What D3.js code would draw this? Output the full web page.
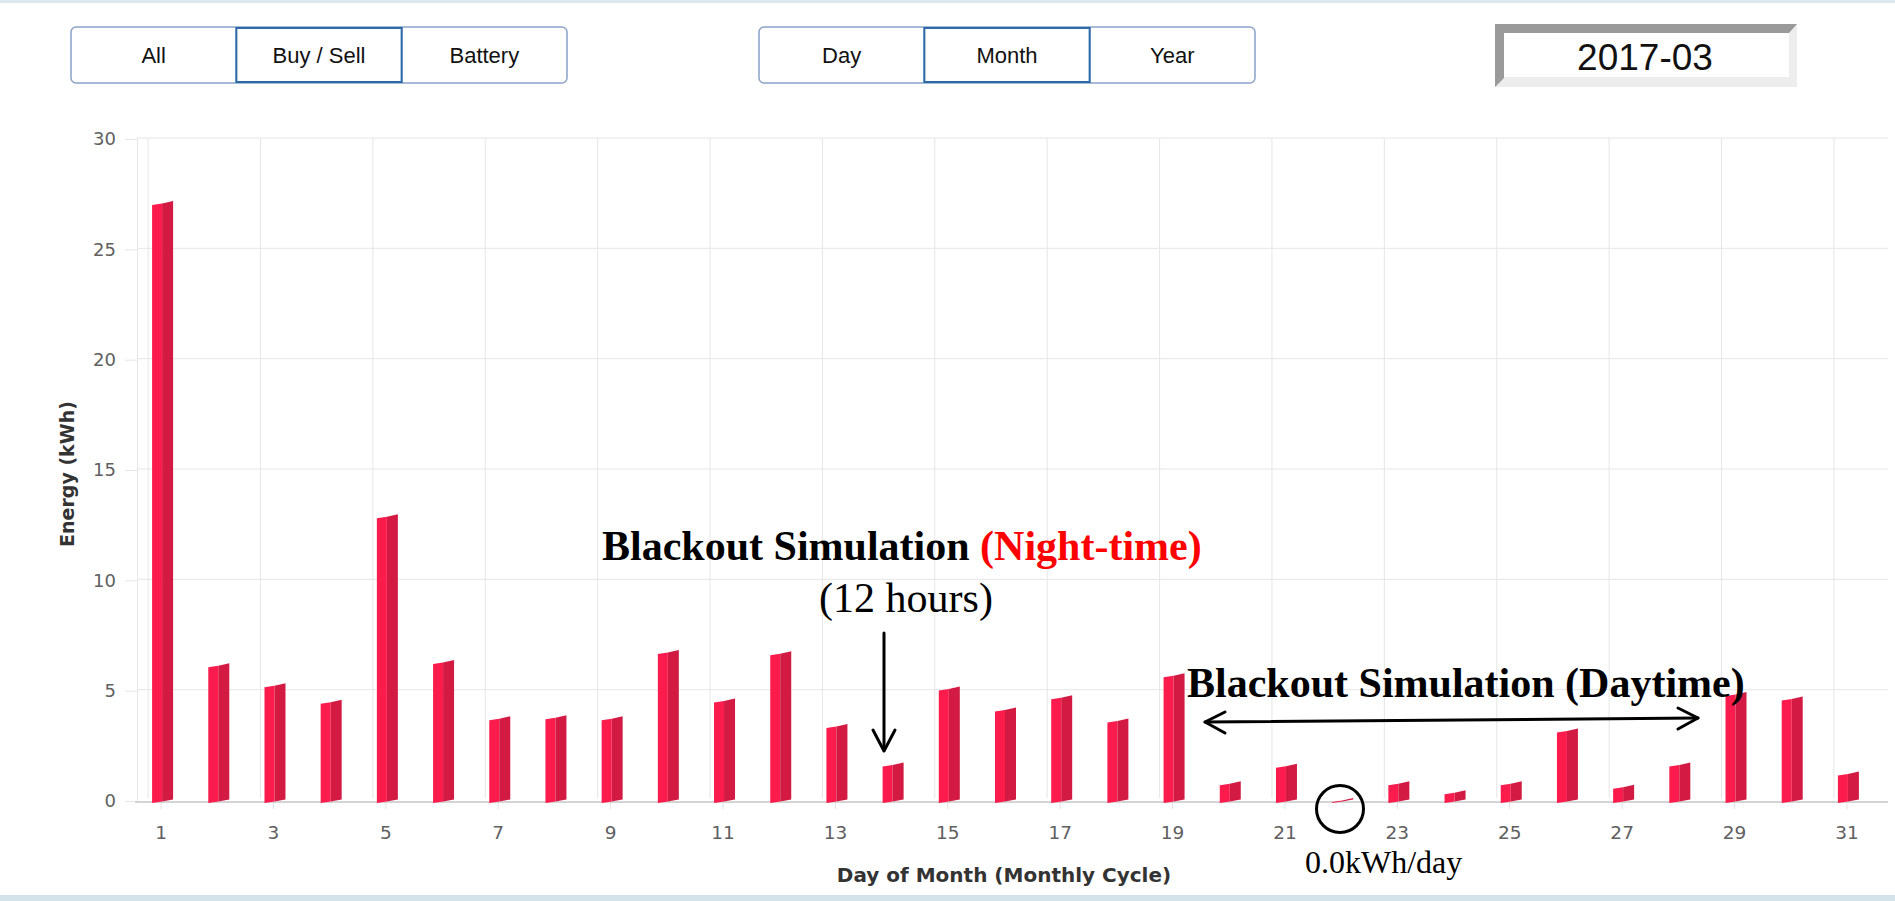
<!DOCTYPE html>
<html>
<head>
<meta charset="utf-8">
<script src="https://cdn.jsdelivr.net/npm/d3@7/dist/d3.min.js"></script>
<style>
  body { margin: 0; background: #ffffff; }
  svg { display: block; }
</style>
</head>
<body>
<div id="chart"></div>
<script>
// Data
var days = [1, 2, 3, 4, 5, 6, 7, 8, 9, 10, 11, 12, 13, 14, 15, 16,
            17, 18, 19, 20, 21, 22, 23, 24, 25, 26, 27, 28, 29, 30, 31];
var energy = [27.1, 6.15, 5.25, 4.5, 12.9, 6.3, 3.75, 3.8, 3.75, 6.75, 4.55,
              6.7, 3.4, 1.65, 5.1, 4.15, 4.7, 3.65, 5.7, 0.8, 1.6, 0.05,
              0.8, 0.4, 0.8, 3.2, 0.65, 1.65, 4.85, 4.65, 1.25];
var yTicks = [0, 5, 10, 15, 20, 25, 30];
var xTickDays = [1, 3, 5, 7, 9, 11, 13, 15, 17, 19, 21, 23, 25, 27, 29, 31];
var modeButtons = ["All", "Buy / Sell", "Battery"];
var periodButtons = ["Day", "Month", "Year"];
var selectedMonth = "2017-03";

var svgWidth = 1895;
var svgHeight = 901;

var svg = d3.select("#chart")
  .append("svg")
  .attr("width", svgWidth)
  .attr("height", svgHeight);

// page bands
svg.append("rect").attr("x", 0).attr("y", 0).attr("width", svgWidth).attr("height", 3)
  .attr("fill", "#dde9ee");
svg.append("rect").attr("x", 0).attr("y", 895).attr("width", svgWidth).attr("height", 6)
  .attr("fill", "#d3e3e9");

// Scales
var xScale = d3.scaleBand().domain(days).range([133, 1875]);
var yScale = d3.scaleLinear().domain([0, 30]).range([801, 139]);
var cx = d => xScale(d) + xScale.bandwidth() / 2;

// Grid (back plane, shifted left)
var grid = svg.append("g");
grid.selectAll(".hgrid")
  .data(yTicks.filter(t => t > 0))
  .enter()
  .append("line")
  .attr("x1", 137).attr("x2", 1888)
  .attr("y1", d => yScale(d) - 1).attr("y2", d => yScale(d) - 1)
  .attr("stroke", "#e6e6e6").attr("stroke-width", 1);
grid.selectAll(".vgrid")
  .data(xTickDays)
  .enter()
  .append("line")
  .attr("x1", d => cx(d) - 13).attr("x2", d => cx(d) - 13)
  .attr("y1", yScale(30) - 1).attr("y2", yScale(0) - 3)
  .attr("stroke", "#e6e6e6").attr("stroke-width", 1);

// Y axis
var yAxis = d3.axisLeft(yScale).tickValues(yTicks).tickSize(12).tickPadding(9);
var yG = svg.append("g")
  .attr("transform", "translate(137,0)")
  .call(yAxis);
yG.select(".domain").attr("stroke", "#e6e6e6");
yG.selectAll(".tick line").attr("stroke", "#e6e6e6");
yG.selectAll(".tick text")
  .attr("fill", "#606060")
  .style("font-family", "DejaVu Sans")
  .style("font-size", "18px");

// X axis
var xAxis = d3.axisBottom(xScale).tickValues(xTickDays).tickSize(7).tickPadding(17);
var xG = svg.append("g")
  .attr("transform", "translate(0,802)")
  .call(xAxis);
xG.select(".domain").remove();
xG.selectAll(".tick line").attr("stroke", "#e0e0e0");
xG.selectAll(".tick text")
  .attr("fill", "#606060")
  .style("font-family", "DejaVu Sans")
  .style("font-size", "18.5px");

svg.append("line")
  .attr("x1", 135).attr("x2", 1888)
  .attr("y1", yScale(0) + 1).attr("y2", yScale(0) + 1)
  .attr("stroke", "#d4d4d4").attr("stroke-width", 2);

// 3D-ish columns: front face + darker side face
var bars = svg.append("g");
var barData = days.map((d, i) => ({ day: d, value: energy[i] }));

bars.selectAll(".front")
  .data(barData)
  .enter()
  .append("path")
  .attr("fill", "#fb1b4c")
  .attr("d", function(d) {
    var c = cx(d.day), yt = yScale(d.value), yb = yScale(0);
    return "M" + (c - 9) + "," + (yb + 2) +
      "L" + (c - 9) + "," + (yt + 2) +
      "L" + (c + 1) + "," + (yt + 0.5) +
      "L" + (c + 1) + "," + (yb + 0.5) + "Z";
  });

bars.selectAll(".side")
  .data(barData)
  .enter()
  .append("path")
  .attr("fill", "#d21a43")
  .attr("d", function(d) {
    var c = cx(d.day), yt = yScale(d.value), yb = yScale(0);
    return "M" + (c + 1) + "," + (yb + 0.5) +
      "L" + (c + 1) + "," + (yt + 0.5) +
      "L" + (c + 12) + "," + (yt - 2) +
      "L" + (c + 12) + "," + (yb - 1.5) + "Z";
  });

// Axis titles
svg.append("text")
  .attr("transform", "translate(67,474) rotate(-90)")
  .attr("text-anchor", "middle")
  .attr("dominant-baseline", "central")
  .style("font-family", "DejaVu Sans")
  .style("font-weight", "bold")
  .style("font-size", "19px")
  .attr("fill", "#333")
  .text("Energy (kWh)");

svg.append("text")
  .attr("x", 1004).attr("y", 882)
  .attr("text-anchor", "middle")
  .style("font-family", "DejaVu Sans")
  .style("font-weight", "bold")
  .style("font-size", "20px")
  .attr("fill", "#333")
  .text("Day of Month (Monthly Cycle)");

// Button groups
function drawButtons(labels, x0, x1, activeIndex) {
  var g = svg.append("g");
  var w = (x1 - x0) / labels.length;
  g.append("rect")
    .attr("x", x0).attr("y", 27).attr("width", x1 - x0).attr("height", 56)
    .attr("rx", 5)
    .attr("fill", "#fff").attr("stroke", "#8aa3c6").attr("stroke-width", 1.5);
  labels.forEach(function(label, i) {
    if (i > 0) {
      g.append("line")
        .attr("x1", x0 + i * w).attr("x2", x0 + i * w)
        .attr("y1", 27).attr("y2", 83)
        .attr("stroke", "#8aa3c6").attr("stroke-width", 1.5);
    }
    g.append("text")
      .attr("x", x0 + i * w + w / 2).attr("y", 63)
      .attr("text-anchor", "middle")
      .style("font-family", "Liberation Sans, Arial")
      .style("font-size", "22px")
      .attr("fill", "#111")
      .text(label);
  });
  g.append("rect")
    .attr("x", x0 + activeIndex * w).attr("y", 28).attr("width", w).attr("height", 54)
    .attr("fill", "none").attr("stroke", "#2d6aaa").attr("stroke-width", 2);
}
drawButtons(modeButtons, 71, 567, 1);
drawButtons(periodButtons, 759, 1255, 1);

// Month box (inset style)
var box = svg.append("g");
box.append("rect").attr("x", 1495).attr("y", 24).attr("width", 302).attr("height", 63)
  .attr("fill", "#ededed");
box.append("path")
  .attr("d", "M1495,24L1797,24L1789,33L1504,33L1504,78L1495,87Z")
  .attr("fill", "#9a9a9a");
box.append("rect").attr("x", 1504).attr("y", 33).attr("width", 285).attr("height", 44)
  .attr("fill", "#fff");
box.append("text")
  .attr("x", 1645).attr("y", 70)
  .attr("text-anchor", "middle")
  .style("font-family", "Liberation Sans, Arial")
  .style("font-size", "37px")
  .attr("fill", "#111")
  .text(selectedMonth);

// Annotations
var serif = "Liberation Serif, Times New Roman, serif";
var night = svg.append("text")
  .attr("x", 602).attr("y", 560)
  .style("font-family", serif)
  .style("font-weight", "bold")
  .style("font-size", "42px")
  .attr("fill", "#000");
night.append("tspan").text("Blackout Simulation ");
night.append("tspan").attr("fill", "#ff0000").text("(Night-time)");

svg.append("text")
  .attr("x", 906).attr("y", 612)
  .attr("text-anchor", "middle")
  .style("font-family", serif)
  .style("font-size", "42px")
  .attr("fill", "#000")
  .text("(12 hours)");

svg.append("text")
  .attr("x", 1187).attr("y", 697)
  .style("font-family", serif)
  .style("font-weight", "bold")
  .style("font-size", "42px")
  .attr("fill", "#000")
  .text("Blackout Simulation (Daytime)");

svg.append("text")
  .attr("x", 1305).attr("y", 873)
  .style("font-family", serif)
  .style("font-size", "32px")
  .attr("fill", "#000")
  .text("0.0kWh/day");

// arrows
var arrows = svg.append("g")
  .attr("stroke", "#000").attr("stroke-width", 3).attr("fill", "none")
  .attr("stroke-linecap", "round").attr("stroke-linejoin", "round");
arrows.append("line").attr("x1", 884).attr("y1", 633).attr("x2", 884).attr("y2", 750);
arrows.append("path").attr("d", "M873,730L884,751L895,730");
arrows.append("line").attr("x1", 1205).attr("y1", 722).attr("x2", 1698).attr("y2", 718);
arrows.append("path").attr("d", "M1225,712L1205,722L1225,733");
arrows.append("path").attr("d", "M1678,708L1698,718L1678,729");

// circle around day 22
svg.append("circle")
  .attr("cx", 1340).attr("cy", 809).attr("r", 23.5)
  .attr("fill", "none").attr("stroke", "#000").attr("stroke-width", 3);
</script>
</body>
</html>
